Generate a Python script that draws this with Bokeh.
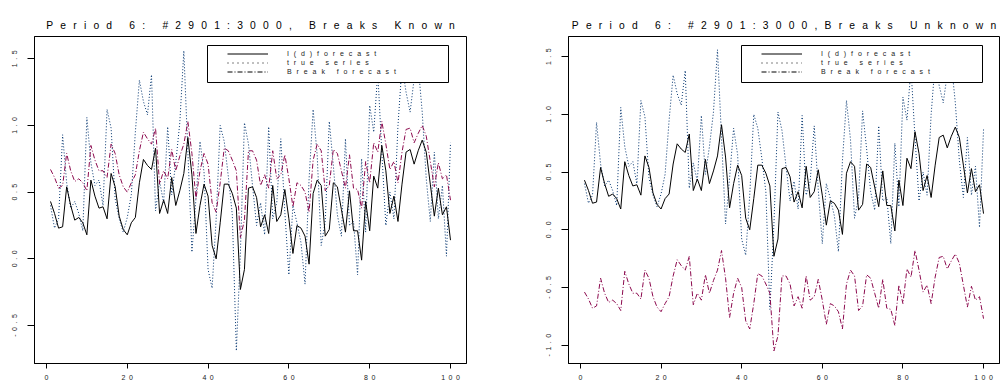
from bokeh.plotting import figure
from bokeh.layouts import row
from bokeh.models import (Range1d, FixedTicker, CustomJSTickFormatter, BoxAnnotation,
                          Legend, LegendItem)
from bokeh.embed import file_html
from bokeh.resources import INLINE

# ---------------- data ----------------
t = list(range(1, 101))

true_series = [
    0.40, 0.23, 0.30, 0.93, 0.57, 0.38, 0.43, 0.34, 0.21, 1.06,
    0.72, 0.55, 0.59, 0.40, 1.12, 0.98, 0.45, 0.30, 0.20, 0.31,
    0.48, 0.95, 1.34, 1.18, 1.08, 1.38, 0.36, 0.58, 0.42, 0.99,
    0.48, 0.72, 1.02, 1.56, 0.80, 0.05, 0.45, 0.88, 0.65, -0.08,
    -0.22, 0.30, 1.00, 0.88, 0.62, 0.33, -0.69, 0.05, 1.02, 0.86,
    0.55, 0.25, 0.42, 0.18, 0.99, 0.30, 0.42, 0.90, 0.35, -0.12,
    0.40, 0.27, 0.12, -0.19, 0.60, 1.12, 0.78, 0.10, 0.28, 1.03,
    0.70, 0.33, 0.17, 0.90, 0.25, 0.28, -0.12, 0.75, 0.20, 1.15,
    0.95, 1.40, 0.80, 0.25, 0.50, 0.30, 1.00, 1.45, 1.25, 1.10,
    1.35, 1.45, 1.10, 0.60, 0.28, 0.80, 0.30, 0.55, 0.02, 0.87,
]

id_forecast = [
    0.43, 0.34, 0.23, 0.24, 0.54, 0.40, 0.29, 0.31, 0.27, 0.18,
    0.59, 0.47, 0.38, 0.39, 0.30, 0.64, 0.54, 0.32, 0.22, 0.18,
    0.27, 0.31, 0.57, 0.745, 0.70, 0.67, 0.83, 0.34, 0.44, 0.34,
    0.61, 0.40, 0.51, 0.64, 0.91, 0.63, 0.19, 0.40, 0.56, 0.47,
    0.10, 0.00, 0.27, 0.56, 0.56, 0.49, 0.38, -0.23, -0.08, 0.53,
    0.54, 0.46, 0.24, 0.33, 0.19, 0.55, 0.28, 0.33, 0.52, 0.30,
    0.04, 0.25, 0.23, 0.17, -0.04, 0.49, 0.59, 0.55, 0.17, 0.22,
    0.57, 0.54, 0.37, 0.20, 0.51, 0.21, 0.21, -0.01, 0.43, 0.21,
    0.62, 0.53, 0.85, 0.66, 0.34, 0.47, 0.28, 0.56, 0.80, 0.82,
    0.71, 0.81, 0.89, 0.80, 0.56, 0.32, 0.53, 0.33, 0.39, 0.14,
]

break_known = [
    0.67, 0.61, 0.53, 0.55, 0.79, 0.66, 0.58, 0.60, 0.57, 0.51,
    0.85, 0.74, 0.66, 0.66, 0.61, 0.86, 0.79, 0.63, 0.54, 0.50,
    0.57, 0.63, 0.81, 0.95, 0.90, 0.86, 0.98, 0.56, 0.66, 0.60,
    0.82, 0.66, 0.77, 0.86, 1.03, 0.79, 0.45, 0.66, 0.79, 0.71,
    0.42, 0.35, 0.57, 0.83, 0.81, 0.74, 0.66, 0.16, 0.29, 0.81,
    0.81, 0.74, 0.55, 0.63, 0.53, 0.81, 0.60, 0.63, 0.78, 0.60,
    0.39, 0.57, 0.55, 0.50, 0.35, 0.74, 0.86, 0.81, 0.51, 0.55,
    0.82, 0.79, 0.66, 0.53, 0.78, 0.53, 0.52, 0.38, 0.73, 0.57,
    0.87, 0.80, 1.03, 0.86, 0.67, 0.73, 0.57, 0.80, 0.97, 0.98,
    0.87, 0.94, 1.00, 0.92, 0.73, 0.54, 0.72, 0.60, 0.63, 0.44,
]

break_unknown = [
    -0.54, -0.60, -0.68, -0.66, -0.42, -0.55, -0.63, -0.61, -0.64, -0.70,
    -0.36, -0.47, -0.55, -0.55, -0.60, -0.35, -0.42, -0.58, -0.67, -0.71,
    -0.64, -0.58, -0.40, -0.26, -0.31, -0.35, -0.23, -0.65, -0.55, -0.61,
    -0.39, -0.55, -0.44, -0.35, -0.18, -0.42, -0.76, -0.55, -0.42, -0.50,
    -0.79, -0.86, -0.64, -0.38, -0.40, -0.47, -0.55, -1.05, -0.92, -0.40,
    -0.40, -0.47, -0.66, -0.58, -0.68, -0.40, -0.61, -0.58, -0.43, -0.61,
    -0.82, -0.64, -0.66, -0.71, -0.86, -0.47, -0.35, -0.40, -0.70, -0.66,
    -0.39, -0.42, -0.55, -0.68, -0.43, -0.68, -0.69, -0.83, -0.48, -0.64,
    -0.34, -0.41, -0.18, -0.35, -0.54, -0.48, -0.64, -0.41, -0.24, -0.23,
    -0.34, -0.27, -0.21, -0.29, -0.48, -0.67, -0.49, -0.61, -0.58, -0.77,
]

x_ticks = [0, 20, 40, 60, 80, 100]
x_tick_labels = ["0", "20", "40", "60", "80", "100"]
y_ticks_known = [-0.5, 0.0, 0.5, 1.0, 1.5]
y_tick_labels_known = ["-0.5", "0.0", "0.5", "1.0", "1.5"]
y_ticks_unknown = [-1.0, -0.5, 0.0, 0.5, 1.0, 1.5]
y_tick_labels_unknown = ["-1.0", "-0.5", "0.0", "0.5", "1.0", "1.5"]

titles = ["Period 6: #2901:3000, Breaks Known",
          "Period 6: #2901:3000,Breaks Unknown"]
legend_labels = ["I(d)forecast", "true series", "Break forecast"]

# ---------------- style ----------------
FONT = "Liberation Sans"
SEP_TITLE = "\u2002\u2009"
SEP_LEG = "\u2002\u2009"
SEP_TICK = "\u2002"
TRUE_COLOR = "#00336e"
BREAK_COLOR = "#8c0a4e"
NAN = float("nan")
FIG_H = 385
B_TOP, B_BOTTOM = 36, 22
FRAME_H = FIG_H - B_TOP - B_BOTTOM


def spaced(s, sep):
    return sep.join(list(s))


def tick_formatter(vals, labs):
    return CustomJSTickFormatter(
        args=dict(vals=vals, labs=labs, sep=SEP_TICK),
        code="""
        let i = -1;
        for (let k = 0; k < vals.length; k++) {
            if (Math.abs(vals[k] - tick) < 1e-9) { i = k; break; }
        }
        const s = i >= 0 ? labs[i] : String(tick);
        return s.split('').join(sep);
        """)


def make_panel(title, brk, y_range, yticks, ylabels, width, bleft, bright, box_left):
    p = figure(width=width, height=FIG_H,
               x_range=Range1d(-2.96, 103.96), y_range=Range1d(*y_range),
               output_backend="svg", toolbar_location=None,
               min_border_left=bleft, min_border_right=bright,
               min_border_top=B_TOP, min_border_bottom=B_BOTTOM,
               title=spaced(title, SEP_TITLE))
    p.title.align = "center"
    p.title.vertical_align = "top"
    p.title.text_font = FONT
    p.title.text_font_size = "10.3px"
    p.title.text_font_style = "normal"
    p.title.text_color = "black"
    p.title.text_line_height = 0.4
    p.title.standoff = 8

    p.grid.visible = False
    p.outline_line_color = "black"
    p.outline_line_width = 1
    p.background_fill_color = "white"
    p.border_fill_color = "white"

    # axes
    p.xaxis.ticker = FixedTicker(ticks=x_ticks)
    p.xaxis.formatter = tick_formatter(x_ticks, x_tick_labels)
    p.yaxis.ticker = FixedTicker(ticks=yticks)
    p.yaxis.formatter = tick_formatter(yticks, ylabels)
    for ax in (p.xaxis, p.yaxis):
        ax.axis_line_color = "black"
        ax.major_tick_line_color = "black"
        ax.minor_tick_line_color = None
        ax.major_tick_in = 0
        ax.major_label_text_font = FONT
        ax.major_label_text_font_size = "7px"
        ax.major_label_text_color = "#222222"
    p.xaxis.major_tick_out = 5
    p.xaxis.major_label_standoff = 5
    p.yaxis.major_tick_out = 7
    p.yaxis.major_label_standoff = 9
    p.yaxis.major_label_orientation = "vertical"

    # data lines
    p.line(t, true_series, line_color=TRUE_COLOR, line_width=1, line_dash="1 2")
    p.line(t, brk, line_color=BREAK_COLOR, line_width=1, line_dash="5 2 1 2")
    p.line(t, id_forecast, line_color="black", line_width=1)

    # legend proxies (black samples, as in the reference legend)
    r1 = p.line(x=[NAN], y=[NAN], line_color="black", line_width=1)
    r2 = p.line(x=[NAN], y=[NAN], line_color="black", line_width=1, line_dash="1 4")
    r3 = p.line(x=[NAN], y=[NAN], line_color="black", line_width=1, line_dash="5 2 1 2")

    box = BoxAnnotation(left=box_left, right=box_left + 241,
                        bottom=FRAME_H - 46, top=FRAME_H - 9,
                        left_units="screen", right_units="screen",
                        bottom_units="screen", top_units="screen",
                        fill_color="white", fill_alpha=1.0,
                        line_color="black", line_width=1, line_alpha=1.0)
    p.add_layout(box)

    items = [LegendItem(label=spaced(lbl, SEP_LEG), renderers=[r])
             for lbl, r in zip(legend_labels, [r1, r2, r3])]
    legend = Legend(items=items, location=(box_left + 20, FRAME_H - 40),
                    padding=0, spacing=0, margin=0,
                    glyph_width=41, glyph_height=9, label_height=9,
                    label_standoff=19, label_text_font=FONT,
                    label_text_font_size="7px", label_text_color="#222222",
                    border_line_color=None, background_fill_alpha=0.0)
    p.add_layout(legend)
    return p


p1 = make_panel(titles[0], break_known, (-0.785, 1.667), y_ticks_known,
                y_tick_labels_known, 500, 34, 34, 173)
p2 = make_panel(titles[1], break_unknown, (-1.159, 1.675), y_ticks_unknown,
                y_tick_labels_unknown, 501, 68, 2, 173)

layout = row(p1, p2)
open("out.html", "w").write(file_html(layout, INLINE))
